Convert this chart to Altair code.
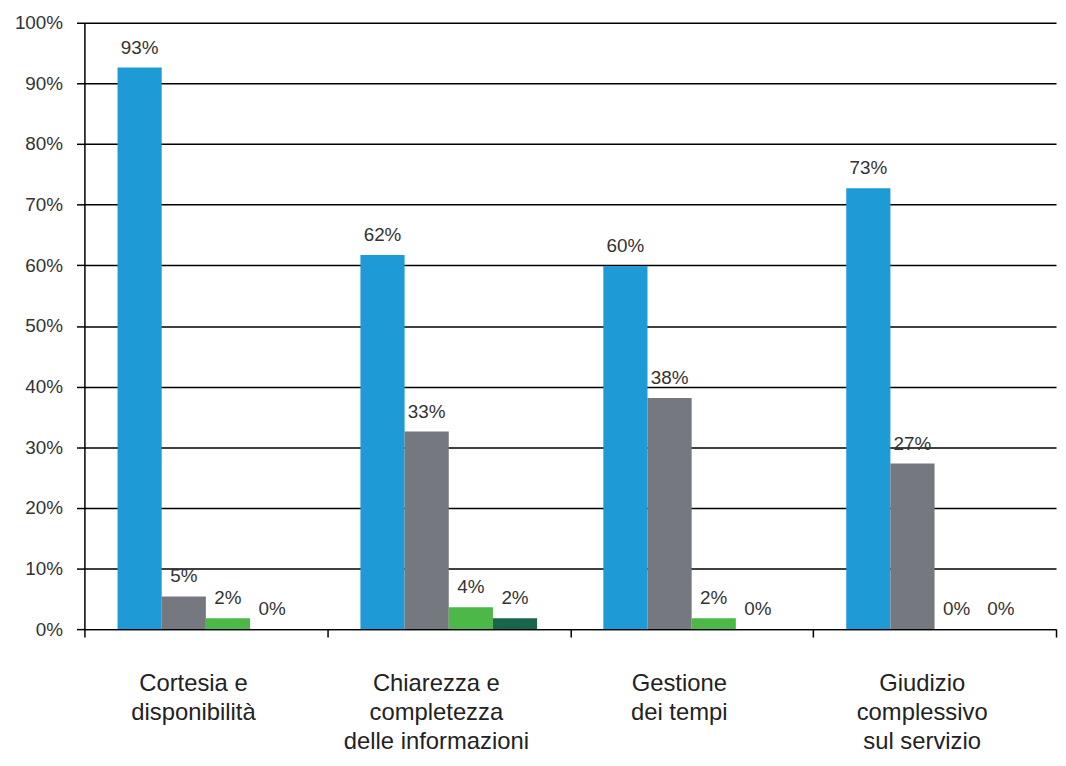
import altair as alt
import pandas as pd

categories = [
    "Cortesia e|disponibilità",
    "Chiarezza e|completezza|delle informazioni",
    "Gestione|dei tempi",
    "Giudizio|complessivo|sul servizio",
]
series = ["Ottimo", "Buono", "Sufficiente", "Insufficiente"]
s1 = [92.6, 61.7, 59.9, 72.7]
s2 = [5.4, 32.6, 38.1, 27.3]
s3 = [1.8, 3.6, 1.8, 0.0]
s4 = [0.0, 1.8, 0.0, 0.0]
colors = ["#1E9AD6", "#75787F", "#4CB848", "#17654B"]
y_ticks = [0, 10, 20, 30, 40, 50, 60, 70, 80, 90, 100]

rows = []
for name, vals in zip(series, [s1, s2, s3, s4]):
    for c, v in zip(categories, vals):
        rows.append({"cat": c, "series": name, "value": v})
df = pd.DataFrame(rows)

FONT = "Liberation Sans"

x = alt.X(
    "cat:N",
    sort=categories,
    scale=alt.Scale(paddingInner=0, paddingOuter=0),
    axis=alt.Axis(
        title=None,
        labelExpr="datum.value ? split(datum.value, '|') : ''",
        labelAngle=0,
        tickBand="extent",
        ticks=True,
        tickSize=8,
        tickWidth=1.5,
        tickColor="black",
        domainColor="black",
        domainWidth=1.5,
        labelFontSize=24,
        labelLineHeight=29,
        labelPadding=54,
        labelBaseline="alphabetic",
        labelOffset=-13,
        labelLimit=400,
        labelColor="#222222",
        labelFont=FONT,
        labelOverlap=False,
        grid=False,
    ),
)
xo = alt.XOffset(
    "series:N",
    sort=series,
    scale=alt.Scale(paddingOuter=0.75, paddingInner=0),
)
y = alt.Y(
    "value:Q",
    scale=alt.Scale(domain=[0, 100]),
    axis=alt.Axis(
        values=y_ticks,
        labelExpr="datum.value + '%'",
        title=None,
        grid=True,
        gridColor="black",
        gridWidth=1.5,
        gridOpacity=1,
        domainColor="black",
        domainWidth=1.5,
        tickColor="black",
        tickWidth=1.5,
        tickSize=8,
        labelFontSize=19,
        labelPadding=14,
        labelColor="#333333",
        labelFont=FONT,
    ),
)

base = alt.Chart(df).encode(x=x, xOffset=xo)

bars = base.mark_bar().encode(
    y=y,
    color=alt.Color("series:N", sort=series,
                    scale=alt.Scale(domain=series, range=colors), legend=None),
)

labels = base.mark_text(
    dy=-20, baseline="middle", align="center", fontSize=19, font=FONT, color="#333333"
).transform_calculate(
    lbl="format(datum.value, '.0f') + '%'"
).encode(
    y=alt.Y("value:Q"),
    text="lbl:N",
)

chart = (
    alt.layer(bars, labels)
    .properties(
        width=979,
        height=611,
        background="white",
        autosize=alt.AutoSizeParams(type="none"),
        padding={"left": 77, "top": 12, "right": 2, "bottom": 127},
    )
    .configure_view(stroke=None)
)

chart.save("out.html", embed_options={"renderer": "svg", "actions": False})
